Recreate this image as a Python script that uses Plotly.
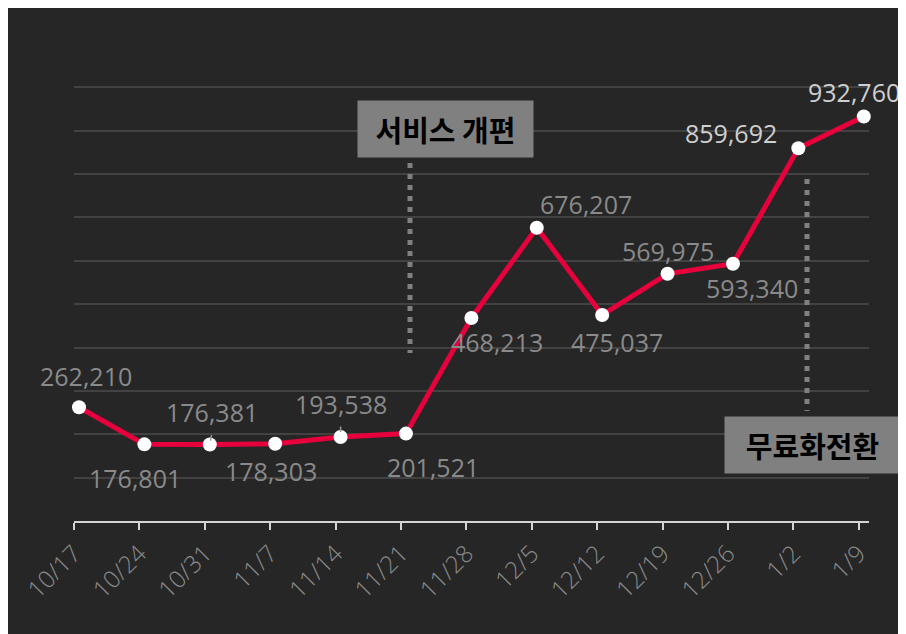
import plotly.graph_objects as go

# ---- data ----
dates = ["10/17", "10/24", "10/31", "11/7", "11/14", "11/21", "11/28",
         "12/5", "12/12", "12/19", "12/26", "1/2", "1/9"]
values = [262210, 176801, 176381, 178303, 193538, 201521, 468213,
          676207, 475037, 569975, 593340, 859692, 932760]
event_labels = ["서비스 개편", "무료화전환"]
event_dates = ["11/21", "1/2"]

# ---- style / layout constants ----
W, H = 898, 626
OFF = 8  # page offset of the plot div
PL, PR, PT, PB = 66, 37, 75, 113
plot_w, plot_h = W - PL - PR, H - PT - PB
BG = "#262626"
LINE = "#e6003c"
XOFF = 0.0765  # points sit slightly right of ticks


def paper_x(px):
    return (px - OFF - PL) / plot_w


def paper_y(py):
    return (H - PB - (py - OFF)) / plot_h


idx = list(range(len(dates)))

# label offsets (px, text center relative to marker) and colours
label_off = [(7, -31), (-9, 34), (2, -33), (-4, 27), (0, -33), (27, 33), (26, 24),
             (49, -24), (15, 27), (0, -23), (19, 24), (-67, -15), (-10, -25)]
label_col = ["#8a8a8a"] * 11 + ["#cfcfcf", "#cfcfcf"]
connectors = {2: (2, -11, 4), 4: (0, -12, 5)}

fig = go.Figure()
fig.add_trace(go.Scatter(
    x=idx, y=values, mode="lines+markers",
    line=dict(color=LINE, width=5),
    marker=dict(color="white", size=14, line=dict(width=0)),
    hoverinfo="skip", showlegend=False, cliponaxis=False,
))

annotations = []
for i, v in enumerate(values):
    dx, dy = label_off[i]
    annotations.append(dict(
        x=i, y=v, xref="x", yref="y", text=f"{v:,}", showarrow=False,
        xshift=dx, yshift=-dy, xanchor="center", yanchor="middle",
        font=dict(family="Open Sans", size=25, color=label_col[i]),
    ))
    if i in connectors:
        ax, ay, so = connectors[i]
        annotations.append(dict(
            x=i, y=v, xref="x", yref="y", text="", showarrow=True,
            arrowhead=0, arrowwidth=1.5, arrowcolor="#9a9a9a",
            ax=ax, ay=ay, standoff=so,
        ))

# event boxes
box_centers = [(445.5, 129), (812.5, 445)]
for lab, (cx, cy) in zip(event_labels, box_centers):
    annotations.append(dict(
        x=paper_x(cx), y=paper_y(cy), xref="paper", yref="paper",
        text=f"<b>{lab}</b>", showarrow=False, xanchor="center", yanchor="middle",
        bgcolor="#808080", width=175, height=56, borderpad=0,
        font=dict(family="Noto Sans CJK KR", size=29, color="#000000"),
    ))

shapes = []
# event dotted lines
ev_lines = [(410, 163, 353), (807, 179, 411)]
for (lx, y0, y1) in ev_lines:
    shapes.append(dict(
        type="line", xref="paper", yref="paper",
        x0=paper_x(lx), x1=paper_x(lx), y0=paper_y(y0), y1=paper_y(y1),
        line=dict(color="#808080", width=5, dash="5px,6px"), layer="above",
    ))

fig.update_layout(
    width=W, height=H,
    margin=dict(l=PL, r=PR, t=PT, b=PB, pad=0),
    paper_bgcolor=BG, plot_bgcolor=BG,
    showlegend=False,
    annotations=annotations, shapes=shapes,
    xaxis=dict(
        range=[-XOFF, len(dates) - 1 + 0.08],
        tickvals=[i - XOFF for i in idx], ticktext=dates,
        tickangle=-45, showgrid=False, zeroline=False,
        showline=True, linecolor="#d4d4d4", linewidth=2,
        ticks="outside", ticklen=7, tickwidth=2, tickcolor="#d4d4d4",
        tickfont=dict(family="Open Sans", size=24, color="#8c8c8c", weight=300),
        fixedrange=True,
    ),
    yaxis=dict(
        range=[0, 1010000], dtick=100000, tick0=0,
        showgrid=True, gridcolor="#424242", gridwidth=2,
        zeroline=False, showticklabels=False, showline=False,
        fixedrange=True,
    ),
)

fig.write_html("out.html")
